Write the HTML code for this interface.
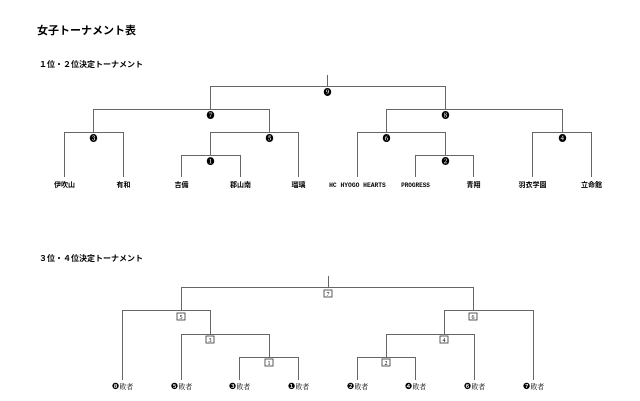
<!DOCTYPE html>
<html><head><meta charset="utf-8"><style>
html,body{margin:0;padding:0;background:#fff;}
svg{display:block;}
text{font-family:"Liberation Serif","Noto Serif CJK SC","Noto Sans CJK JP",serif;fill:#000;}
.b{font-weight:bold;}
</style></head><body>
<svg width="640" height="401" viewBox="0 0 640 401" xmlns="http://www.w3.org/2000/svg">
<text x="37" y="34" font-size="11" class="b" style="font-family:'Noto Sans CJK JP',sans-serif">女子トーナメント表</text>
<text x="39" y="67" font-size="8" class="b" style="font-family:'Noto Sans CJK JP',sans-serif">１位・２位決定トーナメント</text>
<text x="39" y="261" font-size="8" class="b" style="font-family:'Noto Sans CJK JP',sans-serif">３位・４位決定トーナメント</text>
<g fill="none" stroke="#666" stroke-width="1">
<path d="M327.5 75V86.5M210.5 109V86.5H445.5V109"/>
<path d="M93.5 132V109.5H269.5V132"/>
<path d="M386.5 132V109.5H562.5V132"/>
<path d="M64.5 177V132.5H123.5V177"/>
<path d="M210.5 155V132.5H298.5V177"/>
<path d="M357.5 177V132.5H445.5V155"/>
<path d="M532.5 177V132.5H591.5V177"/>
<path d="M181.5 177V155.5H240.5V177"/>
<path d="M415.5 177V155.5H473.5V177"/>
<path d="M328.5 276V287.5M181.5 310V287.5H473.5V310"/>
<path d="M122.5 380V310.5H210.5V334"/>
<path d="M444.5 334V310.5H533.5V380"/>
<path d="M181.5 380V334.5H269.5V357"/>
<path d="M386.5 357V334.5H474.5V380"/>
<path d="M239.5 380V357.5H298.5V380"/>
<path d="M357.5 380V357.5H415.5V380"/>
</g>
<g font-size="8" text-anchor="middle" style="font-family:'DejaVu Sans',sans-serif">
<text x="327.5" y="95">❾</text>
<text x="210.5" y="118">❼</text>
<text x="445.5" y="118">❽</text>
<text x="93.5" y="141">❸</text>
<text x="269.5" y="141">❺</text>
<text x="386.5" y="141">❻</text>
<text x="562.5" y="141">❹</text>
<text x="210.5" y="164">❶</text>
<text x="445.5" y="164">❷</text>
</g>
<g font-size="7" text-anchor="middle" class="b">
<text x="64.5" y="187" style="font-family:'Noto Sans CJK JP',sans-serif">伊吹山</text>
<text x="123.5" y="187" style="font-family:'Noto Sans CJK JP',sans-serif">有和</text>
<text x="181.5" y="187" style="font-family:'Noto Sans CJK JP',sans-serif">吉備</text>
<text x="240.5" y="187" style="font-family:'Noto Sans CJK JP',sans-serif">郡山南</text>
<text x="298.5" y="187" style="font-family:'Noto Sans CJK JP',sans-serif">瑠璃</text>
<text x="357.5" y="187" font-size="6.3" style="font-family:'Liberation Mono',monospace">HC HYOGO HEARTS</text>
<text x="415.5" y="187" font-size="6" style="font-family:'Liberation Mono',monospace">PROGRESS</text>
<text x="473.5" y="187" style="font-family:'Noto Sans CJK JP',sans-serif">青翔</text>
<text x="532.5" y="187" style="font-family:'Noto Sans CJK JP',sans-serif">羽衣学園</text>
<text x="591.5" y="187" style="font-family:'Noto Sans CJK JP',sans-serif">立命館</text>
</g>
<g fill="#fff" stroke="#333" stroke-width="0.8">
<rect x="324" y="290" width="8" height="7"/>
<rect x="177" y="313" width="8" height="7"/>
<rect x="469" y="313" width="8" height="7"/>
<rect x="206" y="336" width="8" height="7"/>
<rect x="440" y="336" width="8" height="7"/>
<rect x="265" y="359" width="8" height="7"/>
<rect x="382" y="359" width="8" height="7"/>
</g>
<g font-size="6" text-anchor="middle">
<text x="328" y="296">7</text>
<text x="181" y="319">5</text>
<text x="473" y="319">6</text>
<text x="210" y="342">3</text>
<text x="444" y="342">4</text>
<text x="269" y="365">1</text>
<text x="386" y="365">2</text>
</g>
<g font-size="7" text-anchor="middle">
<text x="122.5" y="389"><tspan font-size="8.5" style="font-family:'DejaVu Sans',sans-serif">❽</tspan>敗者</text>
<text x="181.5" y="389"><tspan font-size="8.5" style="font-family:'DejaVu Sans',sans-serif">❺</tspan>敗者</text>
<text x="239.5" y="389"><tspan font-size="8.5" style="font-family:'DejaVu Sans',sans-serif">❸</tspan>敗者</text>
<text x="298.5" y="389"><tspan font-size="8.5" style="font-family:'DejaVu Sans',sans-serif">❶</tspan>敗者</text>
<text x="357.5" y="389"><tspan font-size="8.5" style="font-family:'DejaVu Sans',sans-serif">❷</tspan>敗者</text>
<text x="415.5" y="389"><tspan font-size="8.5" style="font-family:'DejaVu Sans',sans-serif">❹</tspan>敗者</text>
<text x="474.5" y="389"><tspan font-size="8.5" style="font-family:'DejaVu Sans',sans-serif">❻</tspan>敗者</text>
<text x="533.5" y="389"><tspan font-size="8.5" style="font-family:'DejaVu Sans',sans-serif">❼</tspan>敗者</text>
</g>
</svg>
</body></html>
